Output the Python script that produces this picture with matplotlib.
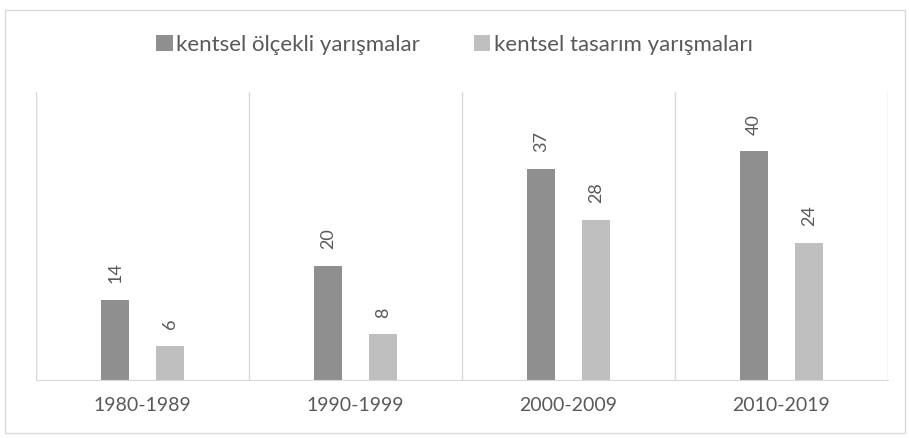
import numpy as np
import matplotlib.pyplot as plt
from matplotlib.patches import Rectangle

periods = ["1980-1989", "1990-1999", "2000-2009", "2010-2019"]
series_names = ["kentsel ölçekli yarışmalar", "kentsel tasarım yarışmaları"]
urban_scale = [14, 20, 37, 40]
urban_design = [6, 8, 28, 24]

dark = "#8f8f8f"
light = "#bfbfbf"
grid = "#d9d9d9"
text_grey = "#595959"

plt.rcParams["font.family"] = ["Lato", "DejaVu Sans"]

fig = plt.figure(figsize=(9.09, 4.38), dpi=100)
ax = fig.add_axes([36 / 909, 58 / 438, 852 / 909, 288 / 438])

# outer chart border
fig.patches.append(Rectangle((5 / 909, 5 / 438), 900 / 909, 423 / 438,
                             transform=fig.transFigure, fill=False,
                             edgecolor=grid, linewidth=1))

x = np.arange(len(periods))
w = 0.131
off = 0.129
b1 = ax.bar(x - off, urban_scale, w, color=dark, label=series_names[0])
b2 = ax.bar(x + off, urban_design, w, color=light, label=series_names[1])

for bars in (b1, b2):
    for r in bars:
        ax.annotate(f"{int(r.get_height())}",
                    (r.get_x() + r.get_width() / 2, r.get_height()),
                    xytext=(0, 12), textcoords="offset points",
                    rotation=90, ha="center", va="bottom",
                    fontsize=13, color=text_grey)

ax.set_xlim(-0.5, len(periods) - 0.5)
ax.set_ylim(0, 50.4)
ax.set_yticks([])
ax.set_xticks(x)
ax.set_xticklabels(periods, fontsize=14, color=text_grey)
ax.tick_params(axis="x", length=0, pad=12)

# category separators
for xs in np.arange(-0.5, len(periods), 1.0):
    ax.axvline(xs, color=grid, linewidth=1, zorder=0)

for s in ["top", "right", "left"]:
    ax.spines[s].set_visible(False)
ax.spines["bottom"].set_color(grid)

fig.legend(loc="center", bbox_to_anchor=(0.5, 1 - 45 / 438),
           ncol=2, frameon=False, fontsize=16, labelcolor=text_grey,
           handlelength=0.75, handleheight=0.75, handletextpad=0.15,
           columnspacing=2.4)

fig.savefig("out.png", dpi=100)
